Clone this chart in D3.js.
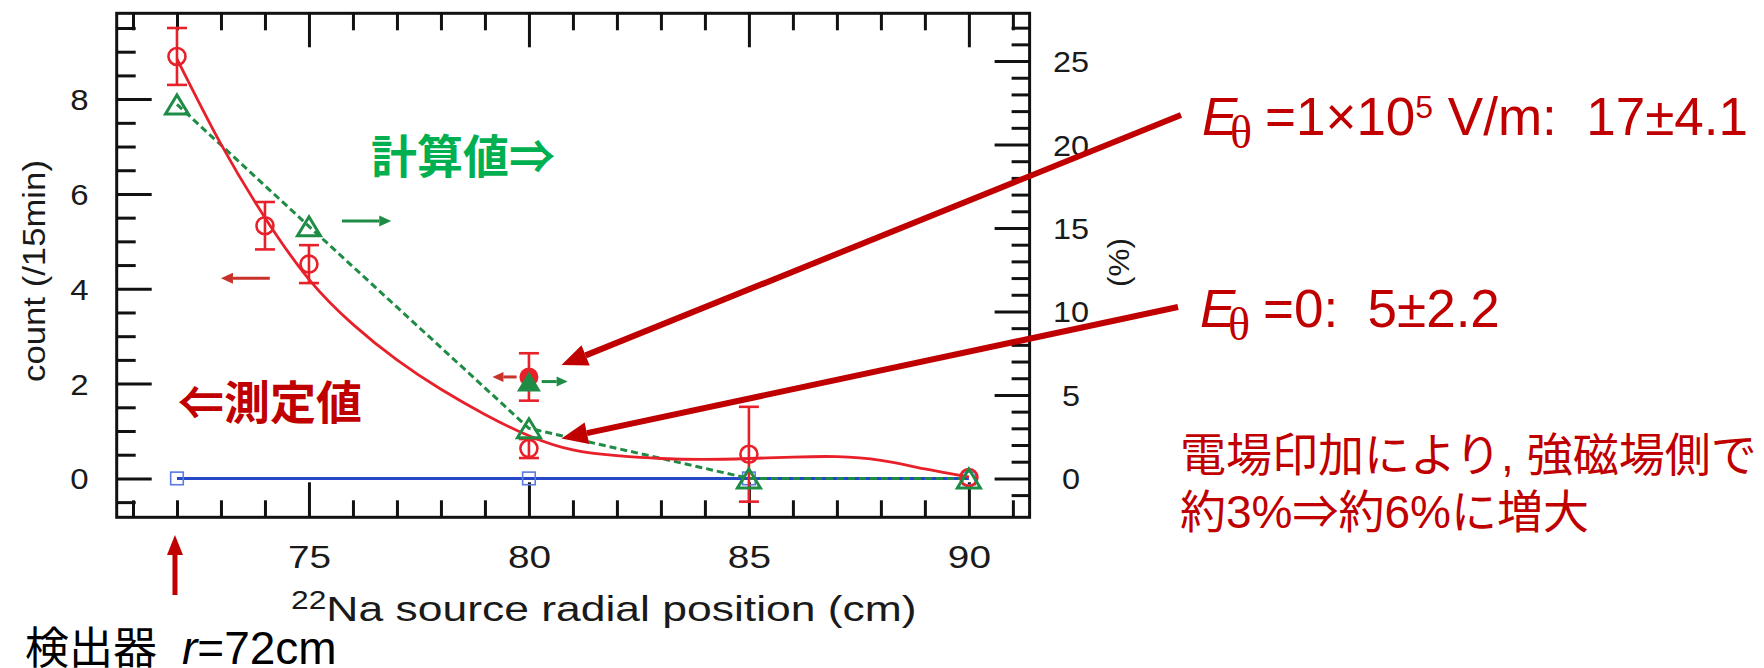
<!DOCTYPE html>
<html>
<head>
<meta charset="utf-8">
<script src="https://cdn.jsdelivr.net/npm/d3@7"></script>
<style>
  html, body { margin: 0; padding: 0; background: #fff; }
  svg { display: block; }
</style>
</head>
<body>
<svg id="chart" width="1764" height="668"></svg>
<script>
// ---- measured counts (left axis, counts / 15 min) ----
const measuredPos   = [72, 74, 75, 80, 85, 90];
const measuredCount = [8.9, 5.33, 4.52, 0.63, 0.51, 0.02];
const measuredErr   = [0.6, 0.5, 0.4, 0.2, 1.0, 0];

// measurement with the electric field applied
const fieldPos   = [80];
const fieldCount = [2.14];
const fieldErr   = [0.5];

// ---- calculated values (right axis, %) ----
const calcPos = [72, 75, 80, 85, 90];
const calcPct = [22.4, 15.1, 3.0, 0, 0];
const calcFieldPos = [80];
const calcFieldPct = [5.8];

// smooth curve drawn through the measured counts
const fitPos   = [72, 73, 74, 75, 76, 77, 78, 79, 80, 81, 82, 83, 84, 85, 86, 87, 88, 89, 90];
const fitCount = [8.85, 7.05, 5.5, 4.2, 3.25, 2.5, 1.88, 1.35, 0.9, 0.6, 0.48, 0.42, 0.4, 0.42, 0.45, 0.46, 0.38, 0.2, 0.03];

// background level
const basePos   = [72, 80, 85, 90];
const baseCount = [0, 0, 0, 0];

// ---- tick labels ----
const xTickLabels     = [75, 80, 85, 90];
const leftTickLabels  = [0, 2, 4, 6, 8];
const rightTickLabels = [0, 5, 10, 15, 20, 25];

// ---- layout ----
const frame = { left: 116.7, right: 1029.6, top: 13.3, bottom: 517.3 };
const LATIN = '"Liberation Sans", Arial, Helvetica, sans-serif';
const CJK = '"Noto Sans CJK JP", "Noto Sans CJK SC", sans-serif';
const RED = "#e8202a", GREEN = "#1f8c46", BLUE = "#2548c8", DARKRED = "#c00000";

const svg = d3.select("#chart");

const x  = d3.scaleLinear().domain([70.63, 91.38]).range([frame.left, frame.right]);
const yL = d3.scaleLinear().domain([-0.82, 9.81]).range([frame.bottom, frame.top]);
const yR = d3.scaleLinear().domain([-2.33, 27.86]).range([frame.bottom, frame.top]);

// ---- axes (ticks point inward) ----
function styleTicks(g) {
  g.select(".domain").remove();
  g.selectAll(".tick line").attr("stroke", "#111").attr("stroke-width", 3);
}
function addAxis(axis, tx, ty) {
  return svg.append("g").attr("transform", `translate(${tx},${ty})`).call(axis).call(styleTicks);
}

// left axis
addAxis(d3.axisLeft(yL).tickValues([-0.5,0.5,1,1.5,2.5,3,3.5,4.5,5,5.5,6.5,7,7.5,8.5,9,9.5]).tickSize(-19).tickFormat(""), frame.left, 0);
const gLeft = addAxis(d3.axisLeft(yL).tickValues(leftTickLabels).tickSize(-35).tickFormat(d3.format("d")), frame.left, 0);
gLeft.selectAll(".tick text")
  .attr("x", 0).attr("dy", null)
  .attr("transform", `translate(${79.5 - frame.left},${0.35 * 30}) scale(1.1,1)`)
  .attr("text-anchor", "middle")
  .attr("font-family", LATIN).attr("font-size", 30).attr("fill", "#1a1a1a");

// right axis
const rightMinor = d3.range(-1, 28).filter(v => v % 5 !== 0);
addAxis(d3.axisRight(yR).tickValues(rightMinor).tickSize(-18).tickFormat(""), frame.right, 0);
const gRight = addAxis(d3.axisRight(yR).tickValues(rightTickLabels).tickSize(-35).tickFormat(d3.format("d")), frame.right, 0);
gRight.selectAll(".tick text")
  .attr("x", 0).attr("dy", null)
  .attr("transform", `translate(${1071 - frame.right},${0.35 * 30}) scale(1.08,1)`)
  .attr("text-anchor", "middle")
  .attr("font-family", LATIN).attr("font-size", 30).attr("fill", "#1a1a1a");

// top axis
const xMinor = d3.range(71, 92).filter(v => v % 5 !== 0);
addAxis(d3.axisTop(x).tickValues(xMinor).tickSize(-17).tickFormat(""), 0, frame.top);
addAxis(d3.axisTop(x).tickValues(xTickLabels).tickSize(-34).tickFormat(""), 0, frame.top);

// bottom axis
addAxis(d3.axisBottom(x).tickValues(xMinor).tickSize(-17).tickFormat(""), 0, frame.bottom);
const gBottom = addAxis(d3.axisBottom(x).tickValues(xTickLabels).tickSize(-35).tickFormat(d3.format("d")), 0, frame.bottom);
gBottom.selectAll(".tick text")
  .attr("y", 0).attr("dy", null)
  .attr("transform", `translate(0,${567.8 - frame.bottom}) scale(1.25,1)`)
  .attr("text-anchor", "middle")
  .attr("font-family", LATIN).attr("font-size", 31).attr("fill", "#1a1a1a");

// frame
svg.append("rect")
  .attr("x", frame.left).attr("y", frame.top)
  .attr("width", frame.right - frame.left).attr("height", frame.bottom - frame.top)
  .attr("fill", "none").attr("stroke", "#111").attr("stroke-width", 3);

// axis titles
svg.append("text")
  .attr("transform", "translate(45,271) rotate(-90) scale(1.12,1)")
  .attr("text-anchor", "middle")
  .attr("font-family", LATIN).attr("font-size", 31).attr("fill", "#1a1a1a")
  .text("count (/15min)");

svg.append("text")
  .attr("transform", "translate(1129,262.5) rotate(-90) scale(1.05,1)")
  .attr("text-anchor", "middle")
  .attr("font-family", LATIN).attr("font-size", 30).attr("fill", "#1a1a1a")
  .text("(%)");

const xTitle = svg.append("text")
  .attr("transform", "translate(291,620.7) scale(1.27,1)")
  .attr("font-family", LATIN).attr("font-size", 35).attr("fill", "#1a1a1a");
xTitle.append("tspan").attr("font-size", 25).attr("dy", -12).text("22");
xTitle.append("tspan").attr("dy", 12).text("Na source radial position (cm)");

// ---- data marks ----
const plot = svg.append("g");

// background line and squares
plot.append("path")
  .datum(basePos.map((p, i) => ({ x: p, y: baseCount[i] })))
  .attr("d", d3.line().x(d => x(d.x)).y(d => yL(d.y)))
  .attr("fill", "none").attr("stroke", BLUE).attr("stroke-width", 3);
plot.selectAll(".base")
  .data(basePos.map((p, i) => ({ x: p, y: baseCount[i] })))
  .join("rect")
  .attr("x", d => x(d.x) - 6.3).attr("y", d => yL(d.y) - 6.3)
  .attr("width", 12.6).attr("height", 12.6)
  .attr("fill", "none").attr("stroke", "#5b7be0").attr("stroke-width", 1.6);

// calculated values: dashed line + open triangles
const calcData = calcPos.map((p, i) => ({ x: p, y: calcPct[i] }));
plot.append("path")
  .datum(calcData)
  .attr("d", d3.line().x(d => x(d.x)).y(d => yR(d.y)))
  .attr("fill", "none").attr("stroke", GREEN).attr("stroke-width", 3)
  .attr("stroke-dasharray", "7,4");

function tri(w, h) {
  return `M0,${-h / 2}L${w / 2},${h / 2}L${-w / 2},${h / 2}Z`;
}

// smooth curve through measured counts
plot.append("path")
  .datum(fitPos.map((p, i) => ({ x: p, y: fitCount[i] })))
  .attr("d", d3.line().x(d => x(d.x)).y(d => yL(d.y)).curve(d3.curveNatural))
  .attr("fill", "none").attr("stroke", RED).attr("stroke-width", 2.8);

// measured counts with error bars
function errorBars(data, yScale) {
  const g = plot.append("g").attr("stroke", RED).attr("stroke-width", 2.6);
  data.filter(d => d.e > 0).forEach(d => {
    const cx = x(d.x), top = yScale(d.y + d.e), bot = yScale(d.y - d.e);
    g.append("line").attr("x1", cx).attr("x2", cx).attr("y1", top).attr("y2", bot);
    g.append("line").attr("x1", cx - 10).attr("x2", cx + 10).attr("y1", top).attr("y2", top);
    g.append("line").attr("x1", cx - 10).attr("x2", cx + 10).attr("y1", bot).attr("y2", bot);
  });
}
const measData = measuredPos.map((p, i) => ({ x: p, y: measuredCount[i], e: measuredErr[i] }));
errorBars(measData, yL);
plot.selectAll(".meas")
  .data(measData)
  .join("circle")
  .attr("cx", d => x(d.x)).attr("cy", d => yL(d.y)).attr("r", 8.5)
  .attr("fill", "none").attr("stroke", RED).attr("stroke-width", 2.6);

plot.selectAll(".calc")
  .data(calcData)
  .join("path")
  .attr("transform", d => `translate(${x(d.x)},${yR(d.y)})`)
  .attr("d", tri(23, 19))
  .attr("fill", "none").attr("stroke", GREEN).attr("stroke-width", 3);

// with electric field: filled markers
const fieldData = fieldPos.map((p, i) => ({ x: p, y: fieldCount[i], e: fieldErr[i] }));
errorBars(fieldData, yL);
plot.selectAll(".field")
  .data(fieldData)
  .join("circle")
  .attr("cx", d => x(d.x)).attr("cy", d => yL(d.y)).attr("r", 8.5)
  .attr("fill", RED).attr("stroke", RED).attr("stroke-width", 2);
plot.selectAll(".calcField")
  .data(calcFieldPos.map((p, i) => ({ x: p, y: calcFieldPct[i] })))
  .join("path")
  .attr("transform", d => `translate(${x(d.x)},${yR(d.y)})`)
  .attr("d", tri(24, 20))
  .attr("fill", GREEN);

// ---- arrows ----
function arrow(x1, y1, x2, y2, color, w, headLen, headW) {
  const a = Math.atan2(y2 - y1, x2 - x1);
  const bx = x2 - headLen * Math.cos(a), by = y2 - headLen * Math.sin(a);
  const px = -Math.sin(a) * headW / 2, py = Math.cos(a) * headW / 2;
  const g = svg.append("g");
  g.append("line").attr("x1", x1).attr("y1", y1).attr("x2", bx).attr("y2", by)
    .attr("stroke", color).attr("stroke-width", w);
  g.append("path").attr("d", `M${x2},${y2}L${bx + px},${by + py}L${bx - px},${by - py}Z`).attr("fill", color);
}

// axis indicators
arrow(x(74.11), yL(4.22), x(73.0), yL(4.22), "#c8322a", 3, 12, 11);
arrow(x(75.75), yR(15.42), x(76.87), yR(15.42), GREEN, 3, 12, 11);
arrow(x(79.72), yL(fieldCount[0]), x(79.17), yL(fieldCount[0]), "#c8322a", 3, 11, 10);
arrow(x(80.29), yR(calcFieldPct[0]), x(80.88), yR(calcFieldPct[0]), GREEN, 3, 11, 10);

// callouts from the right-hand notes
arrow(1181, 115, x(80.74), yL(2.39), DARKRED, 6, 26, 22);
arrow(1178, 307, x(80.74), yL(0.84), DARKRED, 6, 26, 22);

// detector position
arrow(x(72) - 2, 595, x(72) - 2, 535, DARKRED, 5, 20, 16);

// ---- annotations ----
svg.append("text")
  .attr("x", 371).attr("y", 172.5)
  .attr("font-family", CJK).attr("font-weight", 700).attr("font-size", 46)
  .attr("fill", "#00b050").text("計算値⇒");

svg.append("text")
  .attr("x", 178).attr("y", 418.5)
  .attr("font-family", CJK).attr("font-weight", 700).attr("font-size", 46)
  .attr("fill", DARKRED).text("⇐測定値");

const det = svg.append("text").attr("y", 664).attr("fill", "#000");
det.append("tspan").attr("x", 25).attr("font-family", CJK).attr("font-size", 44).text("検出器");
det.append("tspan").attr("x", 182).attr("font-family", LATIN).attr("font-size", 46)
  .attr("font-style", "italic").text("r");
det.append("tspan").attr("font-family", LATIN).attr("font-size", 46).text("=72cm");

// field notes
function fieldNote(xE, baseline, rest, supText, tail) {
  const g = svg.append("g").attr("fill", DARKRED).attr("font-family", LATIN);
  g.append("text").attr("x", xE).attr("y", baseline).attr("font-size", 53)
    .attr("font-style", "italic").text("E");
  g.append("text").attr("x", xE + 28).attr("y", baseline + 13)
    .attr("font-family", '"Liberation Serif", "DejaVu Serif", serif')
    .attr("font-size", 46).text("θ");
  const t = g.append("text").attr("x", xE + 63).attr("y", baseline).attr("font-size", 53)
    .style("white-space", "pre");
  t.append("tspan").text(rest);
  if (supText) {
    t.append("tspan").attr("font-size", 32).attr("dy", -17).text(supText);
    t.append("tspan").attr("dy", 17).text(tail);
  }
}
fieldNote(1202, 135, "=1×10", "5", " V/m:  17±4.1");
fieldNote(1200, 327, "=0:  5±2.2", null, null);

// summary note: CJK text with Latin digits and punctuation
const note = svg.append("g").attr("fill", DARKRED).attr("font-size", 46);
function noteLine(y, parts) {
  const t = note.append("text").attr("x", 1180).attr("y", y).style("white-space", "pre");
  parts.forEach(([s, latin]) => t.append("tspan").attr("font-family", latin ? LATIN : CJK).text(s));
}
noteLine(470.5, [["電場印加により", false], [", ", true], ["強磁場側で", false]]);
noteLine(528, [["約", false], ["3%", true], ["⇒約", false], ["6%", true], ["に増大", false]]);
</script>
</body>
</html>
